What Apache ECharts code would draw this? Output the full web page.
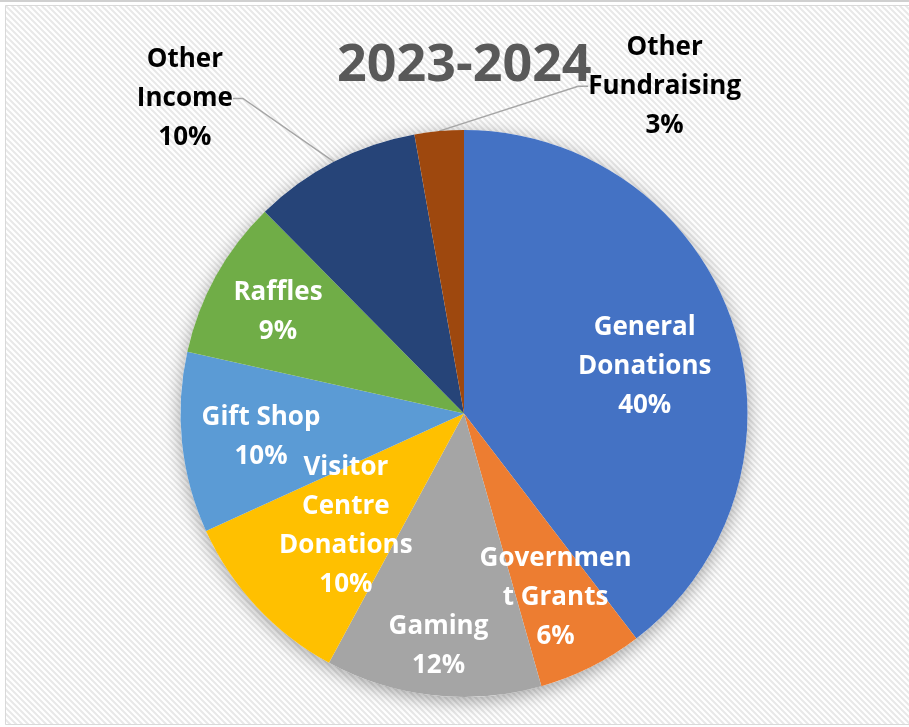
<!DOCTYPE html>
<html><head><meta charset="utf-8">
<script src="https://cdn.jsdelivr.net/npm/echarts@6/dist/echarts.min.js"></script>
<style>html,body{margin:0;padding:0;background:#fff}#c{width:909px;height:727px}</style>
</head><body><div id="c"></div><script>
// ---- data ----
const chartTitle = '2023-2024';
const categories = ['General Donations','Government Grants','Gaming','Visitor Centre Donations','Gift Shop','Raffles','Other Income','Other Fundraising'];
const labelTexts = ['General\nDonations','Governmen\nt Grants','Gaming','Visitor\nCentre\nDonations','Gift Shop','Raffles','Other\nIncome','Other\nFundraising'];
const values = [39.6, 6.0, 12.3, 10.3, 10.3, 9.1, 9.6, 2.8];
const outsideLabels = ['Other Income','Other Fundraising'];

// ---- style ----
const colors = ['#4472C4','#ED7D31','#A5A5A5','#FFC000','#5B9BD5','#70AD47','#264478','#9E480E'];
const CX = 464, CY = 413.5, R = 283.5;
const labelRadius = [0.66, 0.72, 0.82, 0.57, 0.72, 0.75, 1.49, 1.36];
const labelAngleShift = [3.7, 0, 0, 0, 0, 0, -14, 36.4];
const FONT = 'Open Sans';

const pc = document.createElement('canvas'); pc.width = 6; pc.height = 6;
const g = pc.getContext('2d');
g.fillStyle = '#ffffff'; g.fillRect(0, 0, 6, 6);
g.strokeStyle = '#e8e8e8'; g.lineWidth = 2;
g.beginPath();
g.moveTo(-1, -1); g.lineTo(7, 7);
g.moveTo(-1, 5); g.lineTo(1, 7);
g.moveTo(5, -1); g.lineTo(7, 1);
g.stroke();

const total = values.reduce((a, b) => a + b, 0);
const data = categories.map((name, i) => {
  const outside = outsideLabels.indexOf(name) >= 0;
  return {
    name: name,
    value: values[i],
    itemStyle: { color: colors[i] },
    label: outside ? { position: 'outside', color: '#000000' } : { position: 'inside', color: '#ffffff' },
    labelLine: { show: outside }
  };
});

const chart = echarts.init(document.getElementById('c'), null, { renderer: 'canvas' });
chart.setOption({
  animation: false,
  backgroundColor: '#ffffff',
  graphic: [
    { type: 'rect', z: 0, silent: true, shape: { x: 5.5, y: 5.5, width: 920, height: 719 },
      style: { fill: { image: pc, repeat: 'repeat' }, stroke: '#d9d9d9', lineWidth: 1 } },
    { type: 'line', z: 0, silent: true, shape: { x1: 0, y1: 1, x2: 909, y2: 1 },
      style: { stroke: '#d0d0d0', lineWidth: 2 } }
  ],
  title: {
    text: chartTitle,
    left: 337,
    top: 40,
    padding: 0,
    textStyle: { fontFamily: FONT, fontWeight: 'bold', fontSize: 52, color: '#595959' }
  },
  series: [
    {
      type: 'pie',
      silent: true,
      z: 1,
      center: [CX, CY],
      radius: R,
      data: [{ value: 1, name: 'shadow' }],
      label: { show: false },
      labelLine: { show: false },
      itemStyle: { color: '#ffffff', shadowBlur: 18, shadowColor: 'rgba(0,0,0,0.35)', shadowOffsetY: 4 }
    },
    {
      type: 'pie',
      z: 2,
      center: [CX, CY],
      radius: R,
      startAngle: 90,
      clockwise: true,
      avoidLabelOverlap: false,
      data: data,
      label: {
        show: true,
        fontFamily: FONT,
        fontWeight: 'bold',
        fontSize: 26,
        lineHeight: 39,
        formatter: p => labelTexts[p.dataIndex] + '\n' + Math.round(p.percent) + '%'
      },
      labelLine: { length: 10, length2: 10, lineStyle: { color: '#a6a6a6', width: 1.5 } },
      labelLayout: function (p) {
        const i = p.dataIndex;
        let before = 0;
        for (let k = 0; k < i; k++) before += values[k];
        const deg = (before + values[i] / 2) / total * 360 + labelAngleShift[i];
        const a = deg * Math.PI / 180;
        return {
          x: CX + labelRadius[i] * R * Math.sin(a),
          y: CY - labelRadius[i] * R * Math.cos(a) + 2,
          align: 'center',
          verticalAlign: 'middle'
        };
      }
    }
  ]
});
</script></body></html>
